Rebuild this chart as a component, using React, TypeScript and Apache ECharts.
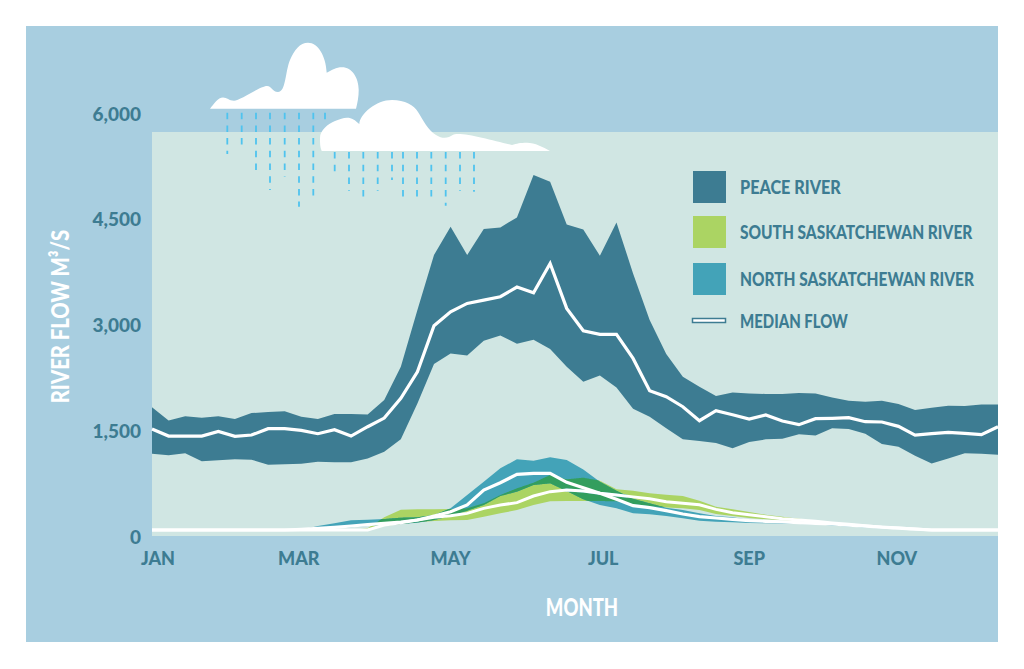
import React, { useEffect, useRef } from "react";
import * as echarts from "echarts";

const weeks = Array.from({ length: 52 }, (_, i) => i);
const monthLabels = ["JAN", "MAR", "MAY", "JUL", "SEP", "NOV"];
const monthWeeks = [0.36, 8.85, 18, 27.2, 36, 44.9];
const yTicks = [0, 1500, 3000, 4500, 6000];
const plotTop = 5730;

const peaceUpper = [1825,1640,1697,1678,1697,1659,1744,1758,1768,1692,1659,1730,1730,1725,1930,2401,3205,3985,4386,3985,4353,4377,4519,5119,5025,4419,4349,3975,4448,3725,3063,2581,2259,2118,1985,2037,2023,2014,2014,2028,2023,1966,1919,1905,1919,1872,1787,1820,1848,1843,1867,1867];
const peaceMedian = [1517,1418,1418,1418,1484,1413,1432,1522,1522,1498,1451,1508,1418,1550,1673,1952,2330,2983,3181,3299,3346,3394,3531,3450,3866,3228,2912,2860,2860,2519,2061,1976,1834,1635,1777,1720,1659,1716,1631,1579,1664,1669,1678,1621,1617,1555,1432,1451,1470,1456,1437,1550];
const peaceLower = [1167,1144,1172,1059,1073,1087,1082,1011,1016,1026,1054,1045,1045,1101,1196,1371,1881,2439,2590,2562,2770,2845,2727,2784,2652,2401,2188,2278,2108,1806,1692,1527,1371,1347,1319,1243,1333,1371,1380,1442,1427,1527,1517,1451,1305,1267,1139,1030,1101,1172,1167,1153];

const southUpper = [85,85,85,85,85,85,85,85,85,85,85,85,85,109,265,373,378,378,383,392,463,581,676,756,865,804,827,785,662,643,605,586,567,501,416,378,340,302,274,246,217,190,170,145,125,110,95,88,88,88,88,88];
const southMedian = [85,85,85,85,85,85,85,85,85,85,85,85,85,85,156,189,227,265,288,321,392,440,473,567,629,652,638,605,581,555,529,487,463,444,378,331,302,274,246,227,208,185,165,145,125,112,98,85,85,85,85,85];
const southLower = [85,85,85,85,85,85,85,85,85,85,85,85,85,95,142,170,194,213,222,227,274,321,369,440,492,496,496,496,492,454,425,406,392,369,312,284,255,236,222,213,208,180,160,140,120,108,92,82,82,82,82,82];

const northUpper = [88,88,88,88,88,88,88,88,88,90,142,180,222,232,241,260,265,298,392,581,770,960,1087,1068,1116,1078,945,770,643,527,463,402,369,321,284,265,227,217,208,203,199,180,165,145,130,118,100,90,88,88,88,88];
const northMedian = [85,85,85,85,85,85,85,85,85,95,109,123,142,161,180,199,227,284,345,440,652,756,874,889,889,761,685,605,520,430,402,359,312,274,255,236,217,208,199,189,180,170,155,140,125,112,98,85,85,85,85,85];
const northLower = [82,82,82,82,82,82,82,82,82,85,104,109,123,142,151,170,189,227,284,359,440,567,629,723,747,638,520,440,392,321,307,284,251,217,203,194,184,180,175,170,165,150,135,120,108,95,80,72,80,85,85,85];

const FONT = "Lato, 'Noto Sans', sans-serif";
const WEIGHT = 900;
const TEAL = "#3D7C92";
const GREEN = "#ABD463";
const BLUE = "#43A3B8";
const OVERLAP = "#339E5E";
const RAIN = "#4FC3EE";

const cloudLeft = "M210 108.7 C214 104,218 97.5,223 97.5 C227 97.5,229 100.7,234 100.7 C240 100.7,260 86,267 86 C272 86,272 92,278 92 C286 92,285 72,290 60 C294 50,300 42.7,308 42.7 C318 42.7,326 56,326.7 72.7 C332 70,336 67.3,342 67.3 C352 67.3,358.7 78,358.7 90 C358.7 97,357.5 103,356 108.7 Z";
const cloudRight = "M321.7 151 C320 147,320 143,320 138 C320 130,328 124,335 121 C340 119,343 117.7,347 117.7 C352 117.7,355 120,359.3 124 C360 114,376 100,392 100 C405 100,414 105,418 112 C423 120,428 130,436 135 C441 138,445 138.5,449 137 C452 135.5,453 134,458 134 C470 134,495 141,512 145 C517 143.5,520 142.7,527 142.7 C535 142.7,543 147,550 151 Z";
echarts.graphic.registerShape("cloudLeft", echarts.graphic.extendPath(cloudLeft, {}));
echarts.graphic.registerShape("cloudRight", echarts.graphic.extendPath(cloudRight, {}));

const rainColumns: [number, number, number][] = [
  [227.3, 112.7, 154], [241.7, 112.7, 150.7], [256, 112.7, 170], [270, 112.7, 190],
  [284.7, 112.7, 176.7], [299, 112.7, 206.7], [313.3, 112.7, 197.3], [325, 112.7, 125],
  [334.7, 152, 176], [349, 152, 190.7], [363.3, 152, 197.3], [377.7, 152, 190.7],
  [392, 152, 180], [403, 152, 200], [417, 152, 200], [431.3, 152, 200],
  [445.7, 152, 205.7], [460, 152, 190.7], [474, 152, 191.7],
];

const legendSwatches: [string, string, number, number][] = [
  ["PEACE RIVER", TEAL, 187, 0.9],
  ["SOUTH SASKATCHEWAN RIVER", GREEN, 232, 0.86],
  ["NORTH SASKATCHEWAN RIVER", BLUE, 279, 0.86],
];

function band(name: string, upper: number[], lower: number[], color: string) {
  return {
    type: "custom",
    name,
    silent: true,
    data: [[0, 0]],
    renderItem: (_p: any, api: any) => {
      const pts = [
        ...weeks.map((w) => api.coord([w, upper[w]])),
        ...weeks.slice().reverse().map((w) => api.coord([w, lower[w]])),
      ];
      return { type: "polygon", shape: { points: pts }, style: { fill: color } };
    },
  };
}

const lerp = (a: number[], x: number) => {
  const i = Math.min(Math.floor(x), a.length - 2);
  return a[i] + (a[i + 1] - a[i]) * (x - i);
};

// where the two Saskatchewan bands overlap
const overlapSeries = {
  type: "custom",
  name: "Overlap",
  silent: true,
  data: [[0, 0]],
  renderItem: (_p: any, api: any) => {
    const children: any[] = [];
    let top: number[][] = [];
    let bottom: number[][] = [];
    const flush = () => {
      if (top.length > 1) {
        children.push({
          type: "polygon",
          shape: { points: [...top, ...bottom.reverse()] },
          style: { fill: OVERLAP },
        });
      }
      top = [];
      bottom = [];
    };
    for (let x = 10; x <= 47; x += 0.05) {
      const hi = Math.min(lerp(southUpper, x), lerp(northUpper, x));
      const lo = Math.max(lerp(southLower, x), lerp(northLower, x));
      if (hi > lo) {
        top.push(api.coord([x, hi]));
        bottom.push(api.coord([x, lo]));
      } else flush();
    }
    flush();
    return { type: "group", children };
  },
};

// the south median runs under the north band in early summer
const southMedianUnderNorth = {
  type: "custom",
  name: "South median under north band",
  silent: true,
  data: [[0, 0]],
  renderItem: (_p: any, api: any) => {
    const pts: number[][] = [];
    for (let x = 24; x <= 30; x += 0.05) {
      const m = lerp(southMedian, x);
      if (m > lerp(northLower, x) && m < lerp(northUpper, x)) pts.push(api.coord([x, m]));
    }
    return {
      type: "polyline",
      shape: { points: pts },
      style: { stroke: BLUE, lineWidth: 3, fill: "none" },
    };
  },
};

function medianLine(name: string, values: number[], width = 3.2) {
  return {
    type: "line",
    name,
    silent: true,
    showSymbol: false,
    data: weeks.map((w) => [w, values[w]]),
    lineStyle: { color: "#FFFFFF", width, join: "miter" },
  };
}

const condensed = (text: string, x: number, y: number, size: number, squeeze: number, fill: string, extra: any = {}) => ({
  type: "text",
  z: 60,
  silent: true,
  x,
  y,
  scaleX: squeeze,
  style: { text, fill, font: `${WEIGHT} ${size}px ${FONT}`, verticalAlign: "middle", ...extra },
});

export default function App() {
  const ref = useRef<HTMLDivElement>(null);
  useEffect(() => {
    document.body.style.margin = "0";
    const chart = echarts.init(ref.current!, undefined, { renderer: "svg" });
    chart.setOption({
      animation: false,
      backgroundColor: "#FFFFFF",
      grid: { left: 152, right: 26, top: 113, bottom: 133 },
      xAxis: {
        type: "value",
        min: 0,
        max: 51,
        axisLine: { show: false },
        axisTick: { show: false },
        splitLine: { show: false },
        axisLabel: {
          customValues: monthWeeks,
          formatter: (v: number) => monthLabels[monthWeeks.indexOf(v)] ?? "",
          color: TEAL,
          fontFamily: FONT,
          fontWeight: WEIGHT,
          fontSize: 18,
          margin: 13,
          showMinLabel: true,
          showMaxLabel: true,
        },
      },
      yAxis: {
        type: "value",
        min: yTicks[0],
        max: yTicks[yTicks.length - 1],
        interval: yTicks[1] - yTicks[0],
        axisLine: { show: false },
        axisTick: { show: false },
        splitLine: { show: false },
        axisLabel: {
          color: TEAL,
          fontFamily: FONT,
          fontWeight: WEIGHT,
          fontSize: 19,
          margin: 11,
          formatter: (v: number) => v.toLocaleString("en-US"),
        },
      },
      series: [
        {
          type: "line",
          name: "Plot background",
          silent: true,
          data: [[0, 0]],
          showSymbol: false,
          lineStyle: { width: 0 },
          markArea: {
            silent: true,
            itemStyle: { color: "#D0E6E3" },
            data: [[{ xAxis: 0, yAxis: 0 }, { xAxis: 51, yAxis: plotTop }]],
          },
        },
        band("Peace River", peaceUpper, peaceLower, TEAL),
        band("South Saskatchewan River", southUpper, southLower, GREEN),
        medianLine("South median", southMedian, 3),
        band("North Saskatchewan River", northUpper, northLower, BLUE),
        overlapSeries,
        southMedianUnderNorth,
        medianLine("North median", northMedian),
        medianLine("Peace median", peaceMedian),
      ],
      graphic: {
        elements: [
          { type: "rect", z: -10, silent: true, shape: { x: 26, y: 26, width: 972, height: 616 }, style: { fill: "#A8CEE0" } },
          ...rainColumns.map(([x, y1, y2]) => ({
            type: "line",
            z: 50,
            silent: true,
            shape: { x1: x, y1, x2: x, y2 },
            style: { stroke: RAIN, lineWidth: 1.8, lineDash: [6.5, 6.2] },
          })),
          { type: "cloudLeft", z: 60, x: 0, y: 0, silent: true, style: { fill: "#FFFFFF" } },
          { type: "cloudRight", z: 60, x: 0, y: 0, silent: true, style: { fill: "#FFFFFF" } },
          ...legendSwatches.map(([, color, cy]) => ({
            type: "rect",
            z: 60,
            silent: true,
            shape: { x: 693, y: cy - 16, width: 33, height: 32 },
            style: { fill: color },
          })),
          { type: "rect", z: 60, silent: true, shape: { x: 692.5, y: 318.5, width: 33, height: 4 }, style: { fill: "#FFFFFF", stroke: TEAL, lineWidth: 1.5 } },
          ...legendSwatches.map(([t, , cy, s]) => condensed(t, 740, cy, 18, s, TEAL)),
          condensed("MEDIAN FLOW", 740, 321, 18, 0.83, TEAL),
          { ...condensed("RIVER FLOW M³/S", 60, 316.5, 25, 0.81, "#FFFFFF", { align: "center" }), rotation: Math.PI / 2 },
          condensed("MONTH", 582, 607, 24, 0.77, "#FFFFFF", { align: "center" }),
        ],
      },
    });
    return () => chart.dispose();
  }, []);
  return <div ref={ref} style={{ position: "absolute", left: 0, top: 0, width: 1024, height: 669 }} />;
}
